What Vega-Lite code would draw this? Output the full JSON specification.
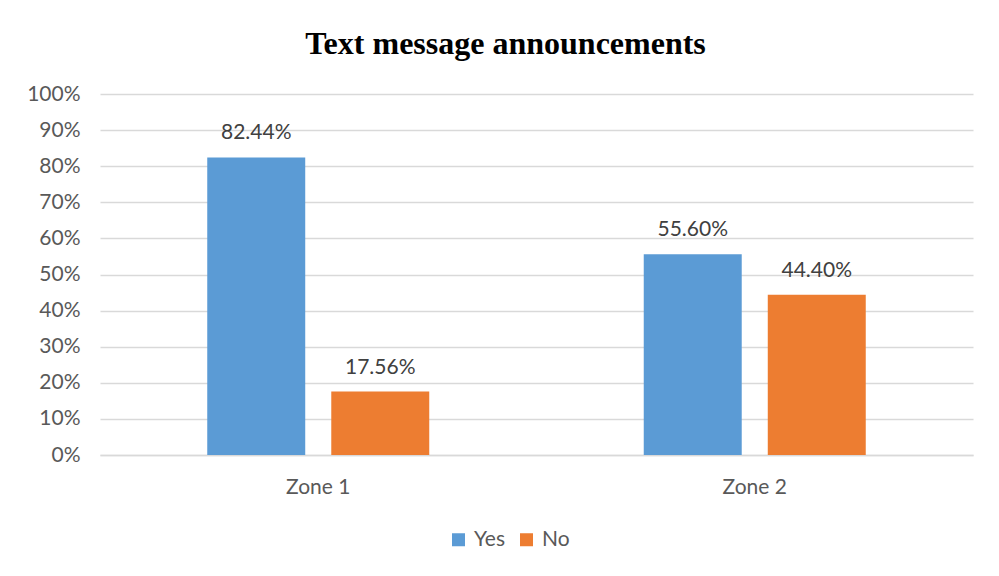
{
  "$schema": "https://vega.github.io/schema/vega-lite/v6.json",
  "width": 873,
  "height": 361,
  "autosize": {"type": "none"},
  "padding": {"left": 100, "top": 94, "right": 26, "bottom": 121},
  "background": "white",
  "config": {"view": {"stroke": null}},
  "title": {
    "text": "Text message announcements",
    "font": "Liberation Serif",
    "fontSize": 32,
    "fontWeight": "bold",
    "color": "#000000",
    "anchor": "middle",
    "dx": -31,
    "offset": 22
  },
  "data": {
    "values": [
      {"zone": "Zone 1", "answer": "Yes", "value": 0.8244},
      {"zone": "Zone 1", "answer": "No", "value": 0.1756},
      {"zone": "Zone 2", "answer": "Yes", "value": 0.556},
      {"zone": "Zone 2", "answer": "No", "value": 0.444}
    ]
  },
  "encoding": {
    "x": {
      "field": "zone",
      "type": "nominal",
      "title": null,
      "scale": {"paddingInner": 0.4914, "paddingOuter": 0.2457},
      "axis": {
        "labelAngle": 0,
        "labelFont": "Lato",
        "labelFontSize": 21,
        "labelColor": "#595959",
        "labelPadding": 21,
        "domainColor": "#d9d9d9",
        "domainWidth": 1.5,
        "ticks": false
      }
    },
    "xOffset": {
      "field": "answer",
      "type": "nominal",
      "sort": ["Yes", "No"],
      "scale": {"paddingInner": 0.21, "paddingOuter": 0}
    },
    "y": {
      "field": "value",
      "type": "quantitative",
      "title": null,
      "scale": {"domain": [0, 1]},
      "axis": {
        "format": ".0%",
        "values": [0, 0.1, 0.2, 0.3, 0.4, 0.5, 0.6, 0.7, 0.8, 0.9, 1.0],
        "labelOverlap": false,
        "labelFont": "Lato",
        "labelFontSize": 21,
        "labelColor": "#595959",
        "labelPadding": 20,
        "domain": false,
        "ticks": false,
        "gridColor": "#d9d9d9",
        "gridWidth": 1.5
      }
    }
  },
  "layer": [
    {
      "mark": {"type": "bar"},
      "encoding": {
        "color": {
          "field": "answer",
          "type": "nominal",
          "sort": ["Yes", "No"],
          "scale": {"domain": ["Yes", "No"], "range": ["#5b9bd5", "#ed7d31"]},
          "legend": {
            "title": null,
            "orient": "none",
            "legendX": 348,
            "legendY": 435,
            "direction": "horizontal",
            "symbolType": "square",
            "symbolSize": 169,
            "symbolStrokeWidth": 0,
            "labelFont": "Lato",
            "labelFontSize": 21,
            "labelColor": "#595959",
            "columnPadding": 11,
            "labelOffset": 5
          }
        }
      }
    },
    {
      "mark": {"type": "text", "dy": -24, "font": "Lato", "fontSize": 21, "color": "#404040"},
      "encoding": {
        "text": {"field": "value", "type": "quantitative", "format": ".2%"}
      }
    }
  ]
}
